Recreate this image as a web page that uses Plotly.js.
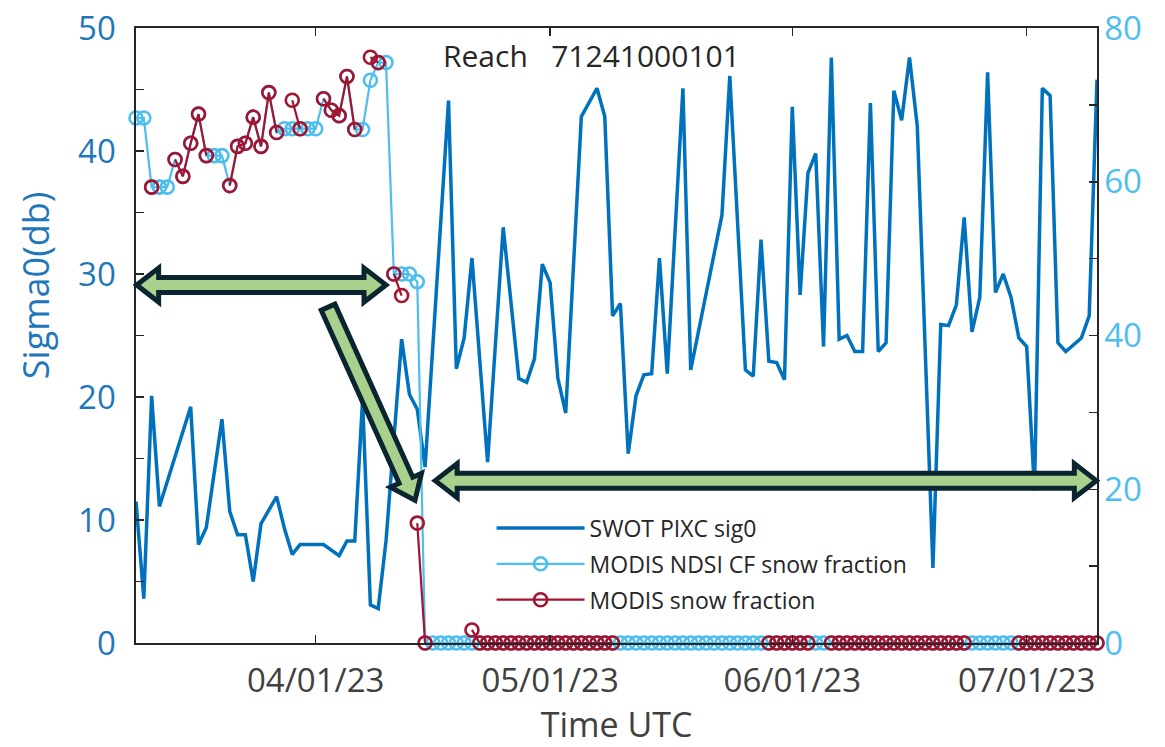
<!DOCTYPE html>
<html>
<head>
<meta charset="utf-8">
<script src="https://cdn.plot.ly/plotly-3.0.1.min.js"></script>
<style>
  html, body { margin: 0; padding: 0; background: #ffffff; }
  #chart { width: 1165px; height: 747px; }
</style>
</head>
<body>
<div id="chart"></div>
<script>
// SWOT PIXC backscatter (sigma0, dB) for reach 71241000101
const sig0Dates = [
  "2023-03-09","2023-03-10","2023-03-11","2023-03-12","2023-03-16","2023-03-17","2023-03-18",
  "2023-03-20","2023-03-21","2023-03-22","2023-03-23","2023-03-24","2023-03-25","2023-03-27",
  "2023-03-28","2023-03-29","2023-03-30","2023-04-02","2023-04-04","2023-04-05","2023-04-06",
  "2023-04-07","2023-04-08","2023-04-09","2023-04-10","2023-04-12","2023-04-13","2023-04-14",
  "2023-04-15","2023-04-18","2023-04-19","2023-04-20","2023-04-21","2023-04-23","2023-04-25",
  "2023-04-27","2023-04-28","2023-04-29","2023-04-30","2023-05-01","2023-05-02","2023-05-03",
  "2023-05-05","2023-05-07","2023-05-08","2023-05-09","2023-05-10","2023-05-11","2023-05-12",
  "2023-05-13","2023-05-14","2023-05-15","2023-05-16","2023-05-18","2023-05-19","2023-05-23",
  "2023-05-24","2023-05-26","2023-05-27","2023-05-28","2023-05-29","2023-05-30","2023-05-31",
  "2023-06-01","2023-06-02","2023-06-03","2023-06-04","2023-06-05","2023-06-06","2023-06-07",
  "2023-06-08","2023-06-09","2023-06-10","2023-06-11","2023-06-12","2023-06-13","2023-06-14",
  "2023-06-15","2023-06-16","2023-06-17","2023-06-19","2023-06-20","2023-06-21","2023-06-22",
  "2023-06-23","2023-06-24","2023-06-25","2023-06-26","2023-06-27","2023-06-28","2023-06-29",
  "2023-06-30","2023-07-01","2023-07-02","2023-07-03","2023-07-04","2023-07-05","2023-07-06",
  "2023-07-08","2023-07-09","2023-07-10"
];
const sig0Values = [
  11.5, 3.6, 20.1, 11.1, 19.2, 8.0, 9.4,
  18.2, 10.7, 8.8, 8.8, 5.0, 9.7, 11.9,
  9.3, 7.2, 8.0, 8.0, 7.1, 8.3, 8.3,
  19.8, 3.1, 2.8, 8.3, 24.7, 20.2, 19.0,
  14.3, 44.1, 22.3, 24.8, 31.3, 14.7, 33.8,
  21.5, 21.2, 23.1, 30.8, 29.3, 21.5, 18.7,
  42.8, 45.1, 42.8, 26.6, 27.6, 15.4, 20.1,
  21.8, 21.9, 31.3, 21.9, 45.1, 22.2, 34.8,
  46.1, 22.2, 21.7, 32.8, 22.9, 22.8, 21.4,
  43.6, 28.3, 38.2, 39.8, 24.1, 47.6, 24.7,
  25.0, 23.7, 23.7, 43.9, 23.7, 24.4, 44.9,
  42.5, 47.6, 42.0, 6.1, 25.9, 25.8, 27.5,
  34.6, 25.3, 28.1, 46.4, 28.5, 30.0, 28.1,
  24.8, 24.1, 12.4, 45.1, 44.5, 24.4, 23.7,
  24.8, 26.6, 45.8
];

// MODIS daily products, 2023-03-09 .. 2023-07-10 (one value per day, null = cloud / no retrieval)
const modisStart = "2023-03-09";
const N = null;
const ndsiCF = [
  // March 9-31
  68.3, 68.3, 59.3, 59.3, 59.3, 62.9, 60.7, 65.0, 68.8, 63.4, 63.4, 63.4,
  59.5, 64.6, 65.0, 68.4, 64.6, 71.6, 66.4, 66.9, 66.9, 66.9, 66.9,
  // April
  66.9, 70.8, 69.3, 68.6, 73.7, 66.8, 66.8, 73.2, 75.5, 75.5, 48.0, 48.0, 48.0, 47.0,
  0, 0, 0, 0, 0, 0, 0, 0, 0, 0, 0, 0, 0, 0, 0, 0,
  // May
  0, 0, 0, 0, 0, 0, 0, 0, 0, 0, 0, 0, 0, 0, 0, 0, 0, 0, 0, 0, 0, 0, 0, 0, 0, 0, 0, 0, 0, 0, 0,
  // June
  0, 0, 0, 0, 0, 0, 0, 0, 0, 0, 0, 0, 0, 0, 0, 0, 0, 0, 0, 0, 0, 0, 0, 0, 0, 0, 0, 0, 0, 0,
  // July 1-10
  0, 0, 0, 0, 0, 0, 0, 0, 0, 0
];
const snowFraction = [
  // March 9-31
  N, N, 59.3, N, N, 62.9, 60.7, 65.0, 68.8, 63.4, N, N,
  59.5, 64.6, 65.0, 68.4, 64.6, 71.6, 66.4, N, 70.6, 66.9, N,
  // April
  N, 70.8, 69.3, 68.6, 73.7, 66.8, N, 76.2, 75.5, N, 48.0, 45.2, N, 15.6,
  0, N, N, N, N, N, 1.7, 0, 0, 0, 0, 0, 0, 0, 0, 0,
  // May
  0, 0, 0, 0, 0, 0, 0, 0, 0, N, N, N, N, N, N, N, N, N, N, N, N, N, N, N, N, N, N, N, 0, 0, 0,
  // June
  0, 0, 0, N, N, 0, 0, 0, 0, 0, 0, 0, 0, 0, 0, 0, 0, 0, 0, 0, 0, 0, 0, N, N, N, N, N, N, 0,
  // July 1-10
  0, 0, 0, 0, 0, 0, 0, 0, 0, 0
];

const xRange = ["2023-03-09", "2023-07-10"];
const xTickLabels = ["04/01/23", "05/01/23", "06/01/23", "07/01/23"];
const xTickDates = ["2023-04-01", "2023-05-01", "2023-06-01", "2023-07-01"];

// daily time axis for the MODIS series
const modisDates = [];
{
  const t0 = Date.parse(modisStart + "T00:00:00Z");
  for (let i = 0; i < ndsiCF.length; i++) {
    modisDates.push(new Date(t0 + i * 86400000).toISOString().slice(0, 10));
  }
}

const C_SIG0 = "#0072BD";
const C_CF = "#4DBEEE";
const C_SNOW = "#A2142F";
const C_AXIS = "#262626";
const C_TEXT = "#404040";
const FONT = "Open Sans, Noto Sans, sans-serif";

const traces = [
  {
    x: sig0Dates, y: sig0Values, name: "SWOT PIXC sig0",
    type: "scatter", mode: "lines", yaxis: "y",
    line: { color: C_SIG0, width: 3.5 },
    legendgroup: "a"
  },
  {
    x: modisDates, y: ndsiCF, name: "MODIS NDSI CF snow fraction",
    type: "scatter", mode: "lines+markers", yaxis: "y2", cliponaxis: false,
    line: { color: C_CF, width: 2.2 },
    marker: { symbol: "circle-open", size: 13, color: C_CF, line: { width: 2.6, color: C_CF } },
    legendgroup: "b"
  },
  {
    x: modisDates, y: snowFraction, name: "MODIS snow fraction",
    type: "scatter", mode: "lines+markers", yaxis: "y2", cliponaxis: false,
    line: { color: C_SNOW, width: 2.2 },
    marker: { symbol: "circle-open", size: 13, color: C_SNOW, line: { width: 2.6, color: C_SNOW } },
    legendgroup: "c"
  }
];

// plot-area geometry
const W = 1165, H = 747;
const M = { l: 136, r: 68, t: 28, b: 104 };
const PW = W - M.l - M.r, PH = H - M.t - M.b;
const Y_MAX = 50;

function toPaper(date, db) {
  const t0 = Date.parse(xRange[0] + "T00:00:00Z");
  const t1 = Date.parse(xRange[1] + "T00:00:00Z");
  const t = Date.parse(date.replace(" ", "T") + (date.length > 10 ? ":00Z" : "T00:00:00Z"));
  return [(t - t0) / (t1 - t0), db / Y_MAX];
}

// block arrow outline (heads: 1 = at end only, 2 = both ends)
function blockArrow(from, to, heads) {
  const a = toPaper(from[0], from[1]), b = toPaper(to[0], to[1]);
  const p0 = [a[0] * PW, (1 - a[1]) * PH], p1 = [b[0] * PW, (1 - b[1]) * PH];
  const dx = p1[0] - p0[0], dy = p1[1] - p0[1], len = Math.hypot(dx, dy);
  const u = [dx / len, dy / len], n = [-u[1], u[0]];
  const w = 7.5, hw = 17, hl = 22;
  const P = (p, su, sn) => [p[0] + u[0] * su + n[0] * sn, p[1] + u[1] * su + n[1] * sn];
  let pts;
  if (heads === 2) {
    pts = [p0, P(p0, hl, hw), P(p0, hl, w), P(p1, -hl, w), P(p1, -hl, hw), p1,
           P(p1, -hl, -hw), P(p1, -hl, -w), P(p0, hl, -w), P(p0, hl, -hw)];
  } else {
    pts = [P(p0, 0, w), P(p1, -hl, w), P(p1, -hl, hw), p1,
           P(p1, -hl, -hw), P(p1, -hl, -w), P(p0, 0, -w)];
  }
  return pts.map((p, i) => (i ? "L" : "M") + (p[0] / PW).toFixed(5) + "," + (1 - p[1] / PH).toFixed(5)).join(" ") + " Z";
}

const arrowStyle = { type: "path", xref: "paper", yref: "paper", fillcolor: "#A9D18E",
                     line: { color: "#0B2530", width: 5 }, layer: "above" };
const shapes = [
  Object.assign({ path: blockArrow(["2023-03-09 02", 29.1], ["2023-04-10 00", 29.1], 2) }, arrowStyle),
  Object.assign({ path: blockArrow(["2023-04-02 14", 27.3], ["2023-04-13 17", 11.6], 1) }, arrowStyle),
  Object.assign({ path: blockArrow(["2023-04-16 07", 13.2], ["2023-07-09 22", 13.2], 2) }, arrowStyle)
];

const layout = {
  width: W, height: H,
  margin: M,
  paper_bgcolor: "#ffffff", plot_bgcolor: "#ffffff",
  font: { family: FONT, color: C_TEXT },
  showlegend: true,
  legend: {
    x: 0.37, y: 0.222, xanchor: "left", yanchor: "top",
    bgcolor: "rgba(255,255,255,1)", borderwidth: 0,
    font: { family: FONT, size: 23, color: "#262626" },
    itemwidth: 88, traceorder: "grouped", tracegroupgap: 3
  },
  xaxis: {
    type: "date", range: xRange,
    tickmode: "array", tickvals: xTickDates, ticktext: xTickLabels,
    ticks: "inside", ticklen: 8, tickwidth: 1.5, tickcolor: C_AXIS,
    showline: true, linecolor: C_AXIS, linewidth: 1.6, mirror: "ticks",
    showgrid: false, zeroline: false,
    tickfont: { family: FONT, size: 33, color: C_TEXT },
    ticklabelstandoff: 8,
    title: { text: "Time UTC", font: { family: FONT, size: 34, color: C_TEXT }, standoff: 14 }
  },
  yaxis: {
    range: [0, Y_MAX], dtick: 10, tick0: 0,
    ticks: "inside", ticklen: 8, tickwidth: 1.5, tickcolor: C_AXIS,
    minor: { dtick: 5, ticks: "inside", ticklen: 8, tickwidth: 1.5, tickcolor: C_AXIS },
    showline: true, linecolor: C_AXIS, linewidth: 1.6,
    showgrid: false, zeroline: false,
    tickfont: { family: FONT, size: 33, color: "#1F77BB" },
    ticklabelstandoff: 12
  },
  yaxis2: {
    overlaying: "y", side: "right",
    range: [0, 80], dtick: 20, tick0: 0,
    ticks: "inside", ticklen: 8, tickwidth: 1.5, tickcolor: C_AXIS,
    minor: { dtick: 10, ticks: "inside", ticklen: 8, tickwidth: 1.5, tickcolor: C_AXIS },
    showline: true, linecolor: C_AXIS, linewidth: 1.6,
    showgrid: false, zeroline: false,
    tickfont: { family: FONT, size: 33, color: C_CF },
    ticklabelstandoff: -1
  },
  annotations: [
    {
      text: "Reach\u00a0\u00a0\u00a071241000101", xref: "paper", yref: "paper",
      x: 0.4735, y: 0.956, xanchor: "center", yanchor: "middle", showarrow: false,
      font: { family: FONT, size: 30, color: "#262626" }
    },
    {
      text: "Sigma0(db)", xref: "paper", yref: "paper", textangle: -90,
      x: -0.105, y: 0.582, xanchor: "center", yanchor: "middle", showarrow: false,
      font: { family: FONT, size: 36, color: "#1F77BB" }
    }
  ],
  shapes: shapes
};

Plotly.newPlot("chart", traces, layout, { displayModeBar: false, staticPlot: true });
</script>
</body>
</html>
